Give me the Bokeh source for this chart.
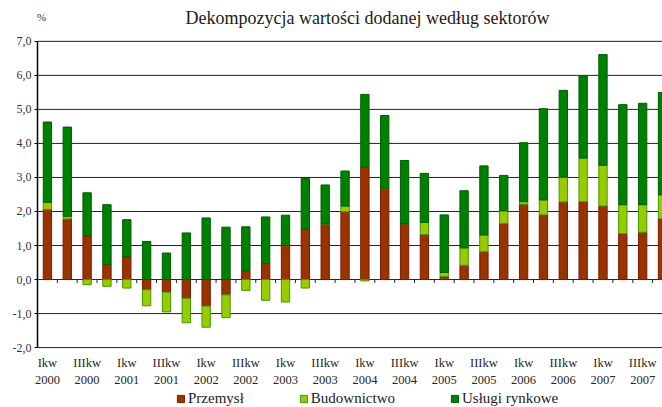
import numpy as np
from bokeh.plotting import figure
from bokeh.models import Range1d, FixedTicker, Legend, LegendItem
from bokeh.core.properties import value
from bokeh.embed import file_html
from bokeh.resources import INLINE

# --- data (percentage point contributions) ---
przemysl = [2.06, 1.78, 1.29, 0.44, 0.67, -0.30, -0.37, -0.55, -0.78, -0.45, 0.26, 0.47,
            1.00, 1.48, 1.63, 1.99, 3.31, 2.69, 1.64, 1.32, 0.09, 0.42, 0.82, 1.65,
            2.21, 1.90, 2.28, 2.29, 2.16, 1.35, 1.39, 1.79]
budownictwo = [0.21, 0.08, -0.15, -0.20, -0.25, -0.47, -0.58, -0.72, -0.62, -0.67, -0.32, -0.61,
               -0.66, -0.25, 0.01, 0.17, -0.04, 0.00, 0.00, 0.36, 0.12, 0.51, 0.49, 0.37,
               0.08, 0.44, 0.73, 1.28, 1.20, 0.85, 0.81, 0.70]
uslugi = [2.36, 2.62, 1.26, 1.76, 1.09, 1.12, 0.78, 1.37, 1.81, 1.54, 1.29, 1.37,
          0.89, 1.49, 1.14, 1.03, 2.13, 2.13, 1.86, 1.44, 1.69, 1.68, 2.03, 1.04,
          1.73, 2.68, 2.55, 2.41, 3.25, 2.94, 2.98, 3.01]
tick_quarters = ["Ikw", "IIIkw", "Ikw", "IIIkw", "Ikw", "IIIkw", "Ikw", "IIIkw",
                 "Ikw", "IIIkw", "Ikw", "IIIkw", "Ikw", "IIIkw", "Ikw", "IIIkw"]
tick_years = ["2000", "2000", "2001", "2001", "2002", "2002", "2003", "2003",
              "2004", "2004", "2005", "2005", "2006", "2006", "2007", "2007"]
y_ticks = [-2, -1, 0, 1, 2, 3, 4, 5, 6, 7]
series_names = ["Przemysł", "Budownictwo", "Usługi rynkowe"]
fill_colors = ["#993300", "#99cc00", "#008000"]
line_colors = ["#7a1a00", "#3f9a00", "#005c00"]
title_text = "Dekompozycja wartości dodanej według sektorów"
unit_text = "%"

FONT = "Liberation Serif"
n = len(przemysl)
x = np.arange(n) + 0.5
x_lab = x[::2]
x_end = 31.5

p = figure(frame_width=662, frame_height=407,
           x_range=Range1d(-1.865, x_end), y_range=Range1d(-3.76, 8.2),
           output_backend="svg", toolbar_location=None,
           min_border_top=0, min_border_left=0, min_border_right=0, min_border_bottom=0)
p.outline_line_color = None
p.background_fill_color = "white"
p.xgrid.visible = False
p.ygrid.visible = False
p.xaxis.visible = False

# horizontal grid lines only across the category area
yt = np.array(y_ticks, dtype=float)
p.segment(x0=np.zeros(len(yt)), x1=np.full(len(yt), x_end), y0=yt, y1=yt,
          line_color="#222222", line_width=1)

# stacked bars with separate positive / negative stacking
pos_base = np.zeros(n)
neg_base = np.zeros(n)
renderers = []
for vals, fc, lc in zip([przemysl, budownictwo, uslugi], fill_colors, line_colors):
    v = np.array(vals)
    bottom = np.where(v >= 0, pos_base, neg_base)
    top = bottom + v
    pos_base = np.where(v >= 0, top, pos_base)
    neg_base = np.where(v < 0, top, neg_base)
    r = p.vbar(x=x, width=0.42, bottom=bottom, top=top,
               fill_color=fc, line_color=lc, line_width=1)
    renderers.append(r)

# category tick marks on the zero line
bounds = np.arange(1, n)
p.segment(x0=bounds, x1=bounds, y0=np.zeros(len(bounds)), y1=np.full(len(bounds), -0.1),
          line_color="#222222", line_width=1)

# title and unit (above the 7,0 line)
p.text(x=[16.63], y=[7.68], text=[title_text], text_font=value(FONT), text_font_size="18px",
       text_color="#1a1a1a", text_align="center", text_baseline="middle")
p.text(x=[0.2], y=[7.71], text=[unit_text], text_font=value(FONT), text_font_size="11px",
       text_color="#333333", text_align="center", text_baseline="middle")

# category labels (two lines) below the plot area
p.text(x=x_lab, y=np.full(len(x_lab), -2.44), text=tick_quarters, text_font=value(FONT),
       text_font_size="12.5px", text_color="#262626", text_align="center", text_baseline="middle")
p.text(x=x_lab, y=np.full(len(x_lab), -2.96), text=tick_years, text_font=value(FONT),
       text_font_size="12.5px", text_color="#262626", text_align="center", text_baseline="middle")

# y axis, fixed at x = 0 (left edge of the category area)
ya = p.yaxis[0]
ya.fixed_location = 0
ya.bounds = (-2, 7)
ya.ticker = FixedTicker(ticks=y_ticks)
ya.major_label_overrides = {t: f"{t:.1f}".replace(".", ",") for t in y_ticks}
ya.axis_line_color = "black"
ya.axis_line_width = 1.5
ya.major_tick_out = 3
ya.major_tick_in = 0
ya.minor_tick_line_color = None
ya.major_label_text_font = FONT
ya.major_label_text_font_size = "12px"
ya.major_label_text_color = "#333333"
ya.major_label_standoff = 3

legend = Legend(items=[LegendItem(label=nm, renderers=[r]) for nm, r in zip(series_names, renderers)],
                orientation="horizontal", location=(176, 0),
                label_text_font=FONT, label_text_font_size="15px", label_text_color="#222222",
                glyph_width=9, glyph_height=9, label_standoff=3, spacing=55,
                padding=0, margin=0, border_line_color=None, background_fill_alpha=0,
                label_height=12)
p.add_layout(legend, "center")

open("out.html", "w").write(file_html(p, INLINE))
